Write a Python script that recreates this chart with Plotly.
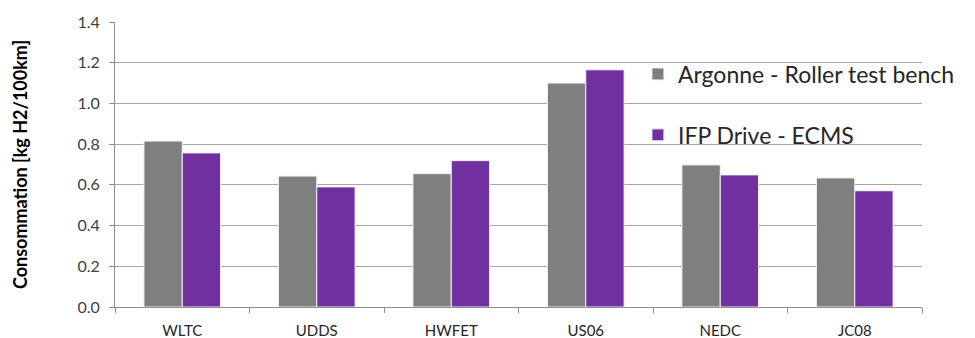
import plotly.graph_objects as go

categories = ["WLTC", "UDDS", "HWFET", "US06", "NEDC", "JC08"]
argonne = [0.815, 0.643, 0.655, 1.100, 0.698, 0.634]
ifp = [0.757, 0.590, 0.719, 1.165, 0.649, 0.571]
y_ticks = [0.0, 0.2, 0.4, 0.6, 0.8, 1.0, 1.2, 1.4]

fig = go.Figure()
fig.add_trace(go.Bar(x=categories, y=argonne, name="Argonne - Roller test bench",
                     marker=dict(color="#7f7f7f", line=dict(color="#f2f2f2", width=1)),
                     legendgroup="a"))
fig.add_trace(go.Bar(x=categories, y=ifp, name="IFP Drive - ECMS",
                     marker=dict(color="#7030a0", line=dict(color="#f2f2f2", width=1)),
                     legendgroup="b"))

fig.update_layout(
    width=975, height=338,
    margin=dict(l=115, r=53, t=22, b=31),
    paper_bgcolor="white", plot_bgcolor="white",
    font=dict(family="Lato, Liberation Sans, sans-serif", color="#404040"),
    barmode="group", bargap=0.43, bargroupgap=0,
    showlegend=True,
    legend=dict(x=0.648, y=0.893, xanchor="left", yanchor="top",
                bgcolor="rgba(0,0,0,0)", font=dict(size=23, color="#262626"),
                traceorder="grouped", tracegroupgap=28, itemwidth=30),
    xaxis=dict(type="category", showline=True, linecolor="#8c8c8c", linewidth=1,
               ticks="outside", tickson="boundaries", ticklen=5, tickcolor="#8c8c8c",
               ticklabelstandoff=10, automargin=False,
               tickfont=dict(size=15, color="#262626"), showgrid=False),
    yaxis=dict(range=[0, 1.4], tickvals=y_ticks, tickformat=".1f",
               showline=True, linecolor="#8c8c8c", linewidth=1,
               ticks="outside", ticklen=5, tickcolor="#8c8c8c",
               ticklabelstandoff=6, automargin=False,
               gridcolor="#a6a6a6", gridwidth=1, zeroline=False,
               tickfont=dict(size=16, color="#404040"),
               title=dict(text="<b>Consommation [kg H2/100km]</b>",
                          font=dict(size=18, color="#000000"), standoff=45)),
)

fig.write_html("out.html")
